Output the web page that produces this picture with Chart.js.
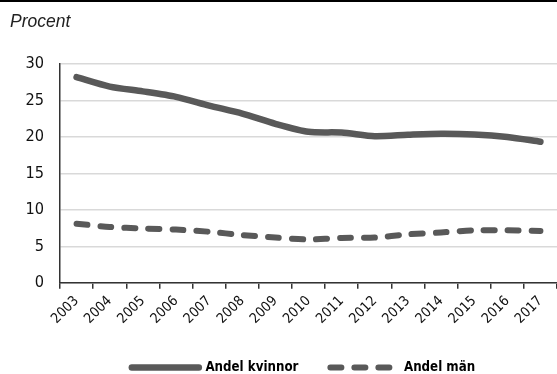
<!DOCTYPE html>
<html>
<head>
<meta charset="utf-8">
<script src="https://cdn.jsdelivr.net/npm/chart.js@4/dist/chart.umd.min.js"></script>
<style>
html,body{margin:0;padding:0;background:#fff;overflow:hidden;}
#wrap{width:557px;height:374px;position:relative;overflow:hidden;}
#c{display:block;}
</style>
</head>
<body>
<div id="wrap"><canvas id="c" width="557" height="385"></canvas></div>
<script>
const years = ['2003','2004','2005','2006','2007','2008','2009','2010','2011','2012','2013','2014','2015','2016','2017'];
const andelKvinnor = [28.2, 26.9, 26.25, 25.5, 24.3, 23.2, 21.8, 20.7, 20.6, 20.1, 20.3, 20.45, 20.35, 20.0, 19.35];
const andelMan = [8.1, 7.65, 7.45, 7.3, 7.0, 6.55, 6.2, 5.95, 6.15, 6.2, 6.65, 6.9, 7.2, 7.2, 7.1];
const yTicks = [0, 5, 10, 15, 20, 25, 30];
const seriesNames = ['Andel kvinnor', 'Andel män'];
const titleText = 'Procent';

// pick an installed family and size text to match the reference text widths
const mctx = document.createElement('canvas').getContext('2d');
function w(font, text) { mctx.font = font; return mctx.measureText(text).width; }
function installed(fam) {
  return w("100px '" + fam + "', monospace", 'Andel 2003') !== w('100px monospace', 'Andel 2003');
}
const cands = ['Liberation Sans Narrow', 'Arial Narrow', 'DejaVu Sans Condensed', 'Liberation Sans'];
const fam = cands.find(installed) || 'sans-serif';
const NARROW = "'" + fam + "', sans-serif";
function fit(weight, text, target) {
  const s = target / w(weight + " 100px '" + fam + "', sans-serif", text) * 100;
  return Math.round(s * 10) / 10;
}
const ySize = fit('normal', '30', 18.5);
const xSize = fit('normal', '2003', 32);
const legSize = fit('bold', 'Andel kvinnor', 93);

// canvas taller than the window so the legend sits where the reference has it
const X_AXIS_H = 46, LEG_PAD = 32;
const cv = document.getElementById('c');
cv.height = Math.round(280 + X_AXIS_H + legSize * 1.2 + LEG_PAD + 10);

const LINE = '#595959';

const topRule = {
  id: 'topRule',
  beforeDraw(chart) {
    const ctx = chart.ctx;
    ctx.save();
    ctx.fillStyle = '#000';
    ctx.fillRect(0, 0, chart.width, 2);
    ctx.restore();
  }
};

const legendShift = {
  id: 'legendShift',
  afterLayout(chart) {
    if (chart.legend) { chart.legend.left -= 5; chart.legend.right -= 5; }
  }
};

new Chart(cv, {
  type: 'line',
  data: {
    labels: years,
    datasets: [
      {
        label: seriesNames[0],
        data: andelKvinnor,
        borderColor: LINE,
        backgroundColor: LINE,
        borderWidth: 6.5,
        borderCapStyle: 'round',
        borderJoinStyle: 'round',
        pointRadius: 0,
        tension: 0.25,
        fill: false
      },
      {
        label: seriesNames[1],
        data: andelMan,
        borderColor: LINE,
        backgroundColor: LINE,
        borderWidth: 6,
        borderDash: [11, 13],
        borderCapStyle: 'round',
        borderJoinStyle: 'round',
        pointRadius: 0,
        tension: 0.25,
        fill: false
      }
    ]
  },
  options: {
    responsive: false,
    animation: false,
    devicePixelRatio: 1,
    layout: { padding: { left: 10, right: 0, top: 0, bottom: 0 } },
    plugins: {
      tooltip: { enabled: false },
      title: {
        display: true,
        text: titleText,
        align: 'start',
        color: '#222',
        font: { family: "'Liberation Sans', Arial, sans-serif", size: 17.5, style: 'italic', weight: 'normal', lineHeight: 1.2 },
        padding: { top: 12, bottom: 31 }
      },
      legend: {
        display: true,
        position: 'bottom',
        fullSize: false,
        labels: {
          usePointStyle: true,
          pointStyle: 'line',
          pointStyleWidth: 67,
          padding: LEG_PAD,
          color: '#000',
          font: { family: NARROW, size: legSize, weight: 'bold', lineHeight: 1.2 },
          generateLabels(chart) {
            const items = Chart.defaults.plugins.legend.labels.generateLabels(chart);
            items.forEach(it => {
              const ds = chart.data.datasets[it.datasetIndex];
              it.lineDash = ds.borderDash || [];
              it.lineCap = ds.borderCapStyle;
              it.lineWidth = ds.borderWidth;
              it.strokeStyle = ds.borderColor;
              it.pointStyle = 'line';
            });
            return items;
          }
        }
      }
    },
    scales: {
      x: {
        type: 'category',
        offset: true,
        afterFit(scale) { scale.height = X_AXIS_H; },
        grid: {
          display: true,
          drawOnChartArea: false,
          drawTicks: true,
          tickLength: 6,
          offset: true,
          color: '#333',
          lineWidth: 1.5
        },
        border: { display: true, color: '#333', width: 1.5 },
        ticks: {
          autoSkip: false,
          minRotation: 45,
          maxRotation: 45,
          padding: 4,
          color: '#111',
          font: { family: NARROW, size: xSize }
        }
      },
      y: {
        min: 0,
        max: 30,
        afterFit(scale) { scale.width = 50; },
        afterBuildTicks(scale) { scale.ticks = yTicks.map(v => ({ value: v })); },
        grid: {
          display: true,
          drawTicks: false,
          color: '#d9d9d9',
          lineWidth: 1.5
        },
        border: { display: true, color: '#333', width: 1.5 },
        ticks: {
          padding: 16,
          color: '#111',
          font: { family: NARROW, size: ySize }
        }
      }
    }
  },
  plugins: [topRule, legendShift]
});
</script>
</body>
</html>
